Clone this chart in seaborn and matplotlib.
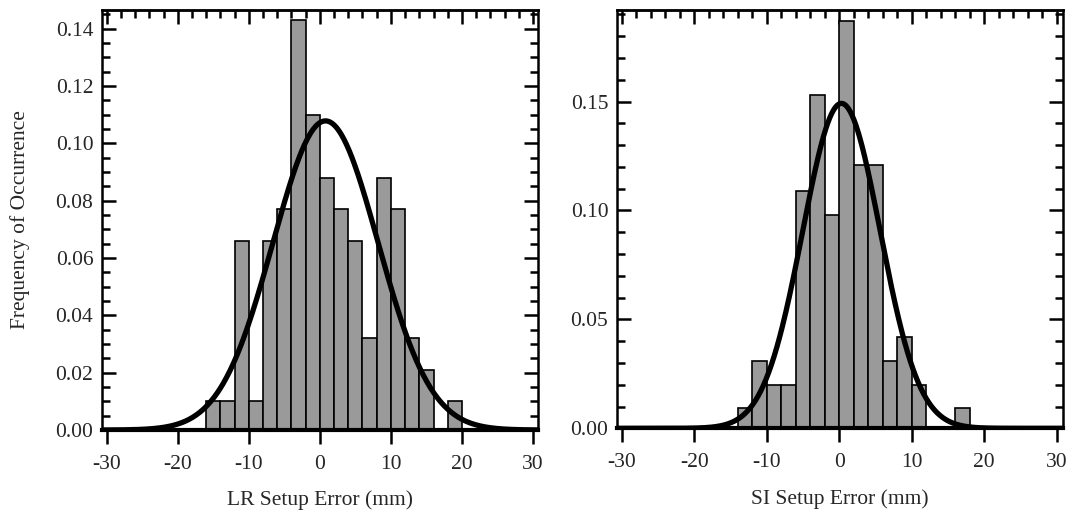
import numpy as np
import pandas as pd
import matplotlib
matplotlib.use("Agg")
import matplotlib.pyplot as plt
from matplotlib.ticker import MultipleLocator
import seaborn as sns

# LR histogram: 2 mm bins, frequency per bin
lr_bin_left = [-16, -14, -12, -10, -8, -6, -4, -2, 0, 2, 4, 6, 8, 10, 12, 14, 16, 18]
lr_freq = [0.010, 0.010, 0.066, 0.010, 0.066, 0.077, 0.143, 0.110, 0.088,
           0.077, 0.066, 0.032, 0.088, 0.077, 0.032, 0.021, 0.0, 0.010]
lr_fit_mean = 0.8
lr_fit_sd = 7.4

# SI histogram
si_bin_left = [-14, -12, -10, -8, -6, -4, -2, 0, 2, 4, 6, 8, 10, 12, 14, 16]
si_freq = [0.0095, 0.031, 0.020, 0.020, 0.109, 0.153, 0.098, 0.187,
           0.121, 0.121, 0.031, 0.042, 0.020, 0.0, 0.0, 0.0095]
si_fit_mean = 0.3
si_fit_sd = 5.35

bin_width = 2
x_ticks = [-30, -20, -10, 0, 10, 20, 30]

sns.set_theme(style="white")
plt.rcParams['font.family'] = ['Liberation Serif', 'DejaVu Serif']
plt.rcParams['axes.unicode_minus'] = False

W, H = 1073, 520
fig = plt.figure(figsize=(W / 100, H / 100), dpi=100)


def px_axes(x0, y0, x1, y1):
    return fig.add_axes([x0 / W, 1 - y1 / H, (x1 - x0) / W, (y1 - y0) / H])


def draw_panel(ax, bin_left, freq, mu, sd, xlim, ylim, ymajor, yminor, xlabel):
    df = pd.DataFrame({'center': np.array(bin_left) + bin_width / 2, 'freq': freq})
    edges = list(bin_left) + [bin_left[-1] + bin_width]
    sns.histplot(data=df, x='center', weights='freq', bins=edges, ax=ax,
                 color='#9a9a9a', edgecolor='black', linewidth=1.2, alpha=1)

    # gaussian fit scaled to the 2 mm bin frequency
    xs = np.linspace(xlim[0], xlim[1], 500)
    ys = bin_width / (sd * np.sqrt(2 * np.pi)) * np.exp(-0.5 * ((xs - mu) / sd) ** 2)
    sns.lineplot(x=xs, y=ys, ax=ax, color='black', linewidth=3.8)

    ax.set_xlim(xlim)
    ax.set_ylim(ylim)
    ax.set_xticks(x_ticks)
    ax.set_xticklabels([str(t) for t in x_ticks])
    ax.yaxis.set_major_locator(MultipleLocator(ymajor))
    ax.yaxis.set_minor_locator(MultipleLocator(yminor))
    ax.yaxis.set_major_formatter(matplotlib.ticker.FormatStrFormatter('%.2f'))
    ax.tick_params(axis='y', which='both', direction='in', left=True, right=True,
                   labelsize=15.5, width=1.8, color='black', pad=6)
    ax.tick_params(axis='y', which='major', length=10)
    ax.tick_params(axis='y', which='minor', length=6)
    ax.tick_params(axis='x', which='major', direction='out', bottom=True,
                   length=10, width=1.8, labelsize=15.5, pad=8, color='black')

    top = ax.secondary_xaxis('top')
    top.set_xticks(x_ticks)
    top.xaxis.set_minor_locator(MultipleLocator(2))
    top.tick_params(axis='x', which='both', direction='in', labeltop=False,
                    width=1.8, color='black')
    top.tick_params(axis='x', which='major', length=10)
    top.tick_params(axis='x', which='minor', length=6)
    top.spines['top'].set_linewidth(1.8)

    for s in ax.spines.values():
        s.set_linewidth(1.8)
        s.set_color('black')
        s.set_visible(True)
    ax.spines['bottom'].set_linewidth(3)

    ax.set_xlabel(xlabel, fontsize=15.5, labelpad=12)
    ax.set_ylabel('')
    ax.grid(False)


ax1 = px_axes(101.7, 10, 538, 430)
draw_panel(ax1, lr_bin_left, lr_freq, lr_fit_mean, lr_fit_sd,
           (-30.7, 30.7), (0, 0.1465), 0.02, 0.005, 'LR Setup Error (mm)')
ax1.set_ylabel('Frequency of Occurrence', fontsize=15.5, labelpad=18)

ax2 = px_axes(616.7, 10, 1063.3, 428.3)
draw_panel(ax2, si_bin_left, si_freq, si_fit_mean, si_fit_sd,
           (-30.7, 30.9), (0, 0.192), 0.05, 0.01, 'SI Setup Error (mm)')

fig.savefig('out.png', dpi=100)
